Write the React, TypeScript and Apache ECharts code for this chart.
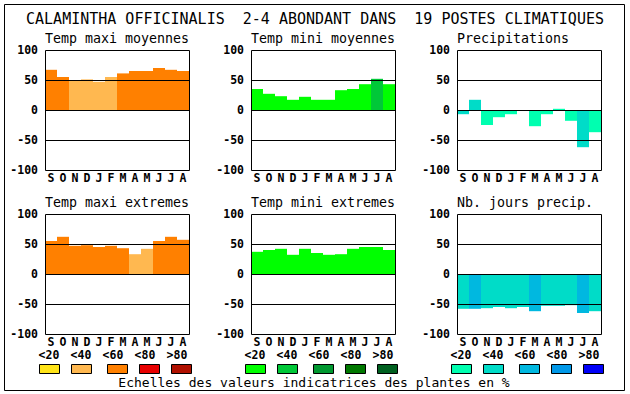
import React, { useEffect, useRef } from "react";
import * as echarts from "echarts";

const months = ["S", "O", "N", "D", "J", "F", "M", "A", "M", "J", "J", "A"];
const classLabels = ["<20", "<40", "<60", "<80", ">80"];

const warmColors = ["#FFE418", "#FFB850", "#FF8000", "#E80000", "#B01000"];
const greenColors = ["#00FF00", "#00C838", "#009830", "#007800", "#006020"];
const blueColors = ["#00FFB0", "#00DCC8", "#00B8E0", "#0098E8", "#0000F8"];

const tempMaxiMoy = [67, 55, 49, 51, 47, 55, 61, 65, 65, 70, 67, 65];
const tempMaxiMoyClass = [2, 2, 1, 1, 1, 1, 2, 2, 2, 2, 2, 2];

const tempMiniMoy = [35, 27, 23, 17, 22, 17, 17, 33, 35, 43, 52, 43];
const tempMiniMoyClass = [0, 0, 0, 0, 0, 0, 0, 0, 0, 0, 1, 0];

const precip = [-7, 17, -25, -12, -7, 0, -27, -7, 2, -18, -62, -37];
const precipClass = [1, 1, 0, 0, 0, 0, 0, 0, 0, 0, 1, 0];

const tempMaxiExt = [55, 62, 47, 48, 45, 47, 43, 33, 42, 55, 62, 57];
const tempMaxiExtClass = [2, 2, 2, 2, 2, 2, 2, 1, 1, 2, 2, 2];

const tempMiniExt = [37, 40, 42, 32, 42, 35, 32, 33, 42, 45, 45, 40];
const tempMiniExtClass = [0, 0, 0, 0, 0, 0, 0, 0, 0, 0, 0, 0];

const nbJours = [-58, -58, -57, -55, -57, -55, -62, -53, -53, -52, -65, -62];
const nbJoursClass = [1, 2, 1, 1, 1, 1, 2, 1, 1, 1, 2, 1];

const panelTitles = [
  "Temp maxi moyennes",
  "Temp mini moyennes",
  "Precipitations",
  "Temp maxi extremes",
  "Temp mini extremes",
  "Nb. jours precip.",
];

const mainTitle = "CALAMINTHA OFFICINALIS  2-4 ABONDANT DANS  19 POSTES CLIMATIQUES";
const footer = "Echelles des valeurs indicatrices des plantes en %";

const MONO = "'DejaVu Sans Mono', monospace";

export default function App() {
  const ref = useRef<HTMLDivElement>(null);

  useEffect(() => {
    document.body.style.margin = "0";
    if (!ref.current) return;
    const chart = echarts.init(ref.current, null, { renderer: "svg" });

    const panels = [
      { values: tempMaxiMoy, cls: tempMaxiMoyClass, pal: warmColors },
      { values: tempMiniMoy, cls: tempMiniMoyClass, pal: greenColors },
      { values: precip, cls: precipClass, pal: blueColors },
      { values: tempMaxiExt, cls: tempMaxiExtClass, pal: warmColors },
      { values: tempMiniExt, cls: tempMiniExtClass, pal: greenColors },
      { values: nbJours, cls: nbJoursClass, pal: blueColors },
    ];
    const colLeft = [45, 251, 457];
    const rowTop = [50, 214];
    const W = 144;
    const H = 120;

    const grids: any[] = [];
    const xAxes: any[] = [];
    const yAxes: any[] = [];
    const series: any[] = [];
    const graphics: any[] = [];

    panels.forEach((p, i) => {
      const col = i % 3;
      const row = Math.floor(i / 3);
      const left = colLeft[col];
      const top = rowTop[row];
      grids.push({ left, top, width: W, height: H, show: true, backgroundColor: "#fff", borderWidth: 0 });
      xAxes.push({
        type: "category",
        gridIndex: i,
        data: months,
        axisLine: { show: false, onZero: false },
        axisTick: { show: false },
        axisLabel: {
          color: "#000",
          fontFamily: MONO,
          fontWeight: "bold",
          fontSize: 11.5,
          lineHeight: 11,
          margin: 2,
          interval: 0,
        },
        splitLine: { show: false },
      });
      yAxes.push({
        type: "value",
        gridIndex: i,
        min: -100,
        max: 100,
        interval: 50,
        axisLine: { show: false },
        axisTick: { show: false },
        splitLine: { show: false },
        axisLabel: {
          color: "#000",
          fontFamily: MONO,
          fontWeight: "bold",
          fontSize: 11.5,
          margin: 7,
        },
      });
      series.push({
        type: "bar",
        xAxisIndex: i,
        yAxisIndex: i,
        barWidth: "100%",
        barCategoryGap: "0%",
        data: p.values.map((v, k) => ({ value: v, itemStyle: { color: p.pal[p.cls[k]] } })),
        markLine: {
          silent: true,
          symbol: ["none", "none"],
          label: { show: false },
          lineStyle: { color: "#000", width: 1, type: "solid" },
          data: [{ yAxis: 50 }, { yAxis: 0 }, { yAxis: -50 }],
        },
      });
      graphics.push({
        type: "rect",
        shape: { x: left + 0.5, y: top + 0.5, width: W, height: H },
        style: { fill: "none", stroke: "#000", lineWidth: 1 },
        z: 100,
        silent: true,
      });
      graphics.push({
        type: "text",
        x: left,
        y: top - 12,
        style: {
          text: panelTitles[i],
          font: `13.3px ${MONO}`,
          fill: "#000",
          textAlign: "left",
          textVerticalAlign: "middle",
        },
        z: 100,
      });
      if (row === 1) {
        const pal = p.pal;
        const boxOff = [-6, 26, 62, 94, 126];
        const labOff = [4, 36, 68, 100, 132];
        for (let k = 0; k < 5; k++) {
          graphics.push({
            type: "text",
            x: left + labOff[k],
            y: 355,
            style: {
              text: classLabels[k],
              font: `bold 11.5px ${MONO}`,
              lineHeight: 11,
              fill: "#000",
              textAlign: "center",
              textVerticalAlign: "middle",
            },
            z: 100,
          });
          graphics.push({
            type: "rect",
            shape: { x: left + boxOff[k] + 0.5, y: 364.5, width: 20, height: 9 },
            style: { fill: pal[k], stroke: "#000", lineWidth: 1 },
            z: 100,
          });
        }
      }
    });

    graphics.push({
      type: "rect",
      shape: { x: 4.5, y: 4.5, width: 620, height: 386 },
      style: { fill: "none", stroke: "#000", lineWidth: 1 },
      z: 100,
      silent: true,
    });
    graphics.push({
      type: "text",
      x: 315,
      y: 19,
      style: {
        text: mainTitle,
        font: `15px ${MONO}`,
        fill: "#000",
        textAlign: "center",
        textVerticalAlign: "middle",
      },
      z: 100,
    });
    graphics.push({
      type: "text",
      x: 314,
      y: 382,
      style: {
        text: footer,
        font: `13px ${MONO}`,
        fill: "#000",
        textAlign: "center",
        textVerticalAlign: "middle",
      },
      z: 100,
    });

    chart.setOption({
      animation: false,
      backgroundColor: "#fff",
      grid: grids,
      xAxis: xAxes,
      yAxis: yAxes,
      series,
      graphic: { elements: graphics },
    });

    return () => chart.dispose();
  }, []);

  return <div ref={ref} style={{ width: 630, height: 394 }} />;
}
